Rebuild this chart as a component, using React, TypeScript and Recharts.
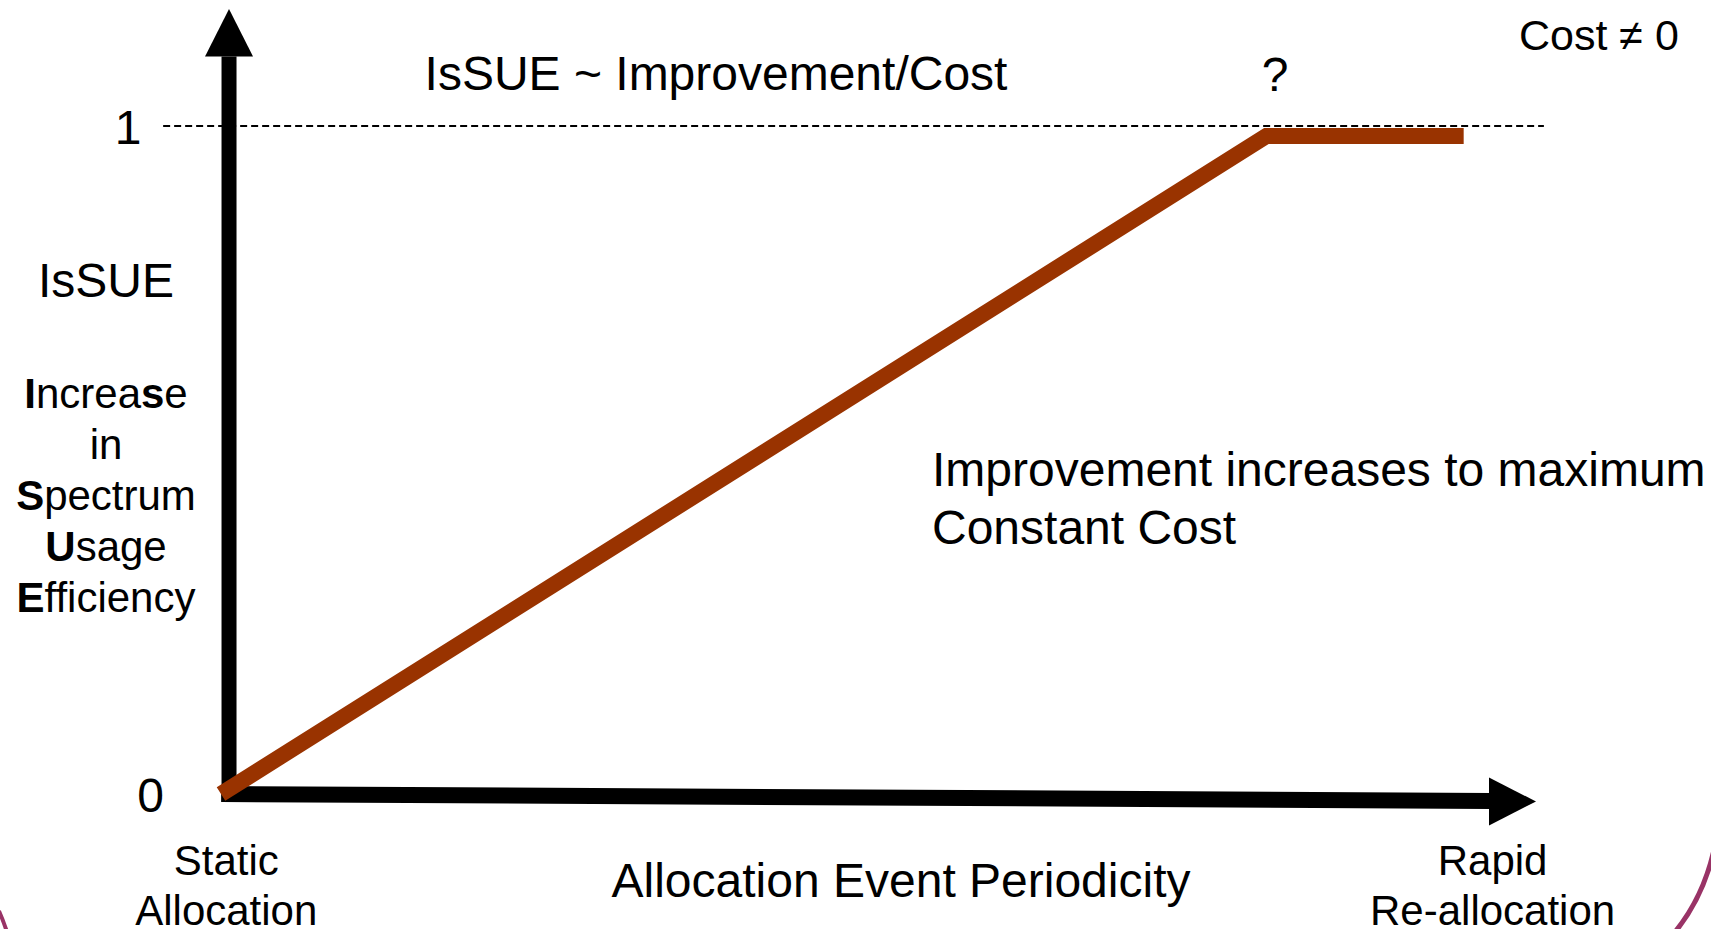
import React from "react";
import {
    LineChart,
    Line,
    XAxis,
    YAxis,
    ReferenceLine,
    ReferenceDot,
    Customized,
} from "recharts";

// Chart values
const periodicity = [0, 79.5, 94.5];
const efficiency = [0, 0.985, 0.985];
const yTicks = [0, 1];
const xTicks = [0.4, 96.7];
const xTickLabels = [
    ["Static", "Allocation"],
    ["Rapid", "Re-allocation"],
];
const maxLevel = 1;

const data = periodicity.map((x, i) => ({ x, y: efficiency[i] }));

const FONT = "'Liberation Sans', Arial, Helvetica, sans-serif";
const LINE_COLOR = "#993300";

const YTick = (props: any) => {
    const { x, y, payload } = props;
    const dx = payload.value === 0 ? 74.5 : 52;
    return (
        <text x={x + dx} y={y + 18} textAnchor="end" fontSize={48} fontFamily={FONT} fill="#000">
            {payload.value}
        </text>
    );
};

const XTick = (props: any) => {
    const { x, y, index } = props;
    const lines = xTickLabels[index] || [];
    return (
        <g>
            {lines.map((t, i) => (
                <text
                    key={t}
                    x={x}
                    y={y + 14 + i * 50}
                    textAnchor="middle"
                    fontSize={42}
                    fontFamily={FONT}
                    fill="#000"
                >
                    {t}
                </text>
            ))}
        </g>
    );
};

const Annotations = () => (
    <g fontFamily={FONT} fill="#000">
        <text x={716} y={90} fontSize={48} textAnchor="middle">IsSUE ~ Improvement/Cost</text>
        <text x={1275} y={91} fontSize={48} textAnchor="middle">?</text>
        <text x={1519} y={50} fontSize={43}>Cost ≠ 0</text>

        {/* y axis title */}
        <g fontSize={42} textAnchor="middle">
            <text x={106} y={297} fontSize={48}>IsSUE</text>
            <text x={106} y={408}>
                <tspan fontWeight="bold">I</tspan>ncrea<tspan fontWeight="bold">s</tspan>e
            </text>
            <text x={106} y={459}>in</text>
            <text x={106} y={510}>
                <tspan fontWeight="bold">S</tspan>pectrum
            </text>
            <text x={106} y={561}>
                <tspan fontWeight="bold">U</tspan>sage
            </text>
            <text x={106} y={612}>
                <tspan fontWeight="bold">E</tspan>fficiency
            </text>
        </g>

        <text x={901} y={897} fontSize={48} textAnchor="middle">Allocation Event Periodicity</text>
        <text x={932} y={486} fontSize={48}>Improvement increases to maximum</text>
        <text x={932} y={544} fontSize={48}>Constant Cost</text>

        {/* slide border bits */}
        <path d="M1714 850 Q1703 898 1675 932" stroke="#993366" strokeWidth={5} fill="none" />
        <path d="M-1 911 Q3 920 7 932" stroke="#993366" strokeWidth={4} fill="none" />
    </g>
);

const App = () => {
    return (
        <div style={{ position: "absolute", left: 0, top: 0, background: "#fff" }}>
            <LineChart
                width={1711}
                height={929}
                data={data}
                margin={{ top: 59.2, right: 43.5, bottom: 0, left: 0 }}
            >
                <XAxis
                    dataKey="x"
                    type="number"
                    domain={[-10, 110]}
                    ticks={xTicks}
                    interval={0}
                    height={68.2}
                    axisLine={false}
                    tickLine={false}
                    tickSize={0}
                    tickMargin={0}
                    tick={<XTick />}
                />
                <YAxis
                    type="number"
                    domain={[-0.1, 1.1]}
                    ticks={yTicks}
                    width={89.5}
                    axisLine={false}
                    tickLine={false}
                    tickSize={0}
                    tickMargin={0}
                    tick={<YTick />}
                />

                {/* dashed max level */}
                <ReferenceLine
                    segment={[
                        { x: -4.4, y: maxLevel },
                        { x: 100.6, y: maxLevel },
                    ]}
                    stroke="#000"
                    strokeWidth={2}
                    strokeDasharray="7 4"
                    ifOverflow="visible"
                />

                {/* axis arrows */}
                <ReferenceLine
                    segment={[
                        { x: 0.61, y: -0.0115 },
                        { x: 0.61, y: 1.104 },
                    ]}
                    stroke="#000"
                    strokeWidth={15}
                    ifOverflow="visible"
                />
                <ReferenceLine
                    segment={[
                        { x: 0.02, y: 0 },
                        { x: 96.5, y: -0.0103 },
                    ]}
                    stroke="#000"
                    strokeWidth={16}
                    ifOverflow="visible"
                />
                <ReferenceDot
                    x={0.61}
                    y={1.104}
                    ifOverflow="visible"
                    shape={(p: any) => (
                        <polygon
                            points={`${p.cx - 24},${p.cy} ${p.cx + 24},${p.cy} ${p.cx},${p.cy - 47.5}`}
                            fill="#000"
                        />
                    )}
                />
                <ReferenceDot
                    x={100}
                    y={-0.0112}
                    ifOverflow="visible"
                    shape={(p: any) => (
                        <polygon
                            points={`${p.cx},${p.cy} ${p.cx - 47},${p.cy - 24} ${p.cx - 47},${p.cy + 24}`}
                            fill="#000"
                        />
                    )}
                />

                <Line
                    type="linear"
                    dataKey="y"
                    stroke={LINE_COLOR}
                    strokeWidth={16}
                    dot={false}
                    activeDot={false}
                    isAnimationActive={false}
                    zIndex={1000}
                />

                <Customized component={Annotations} />
            </LineChart>
        </div>
    );
};

export default App;
